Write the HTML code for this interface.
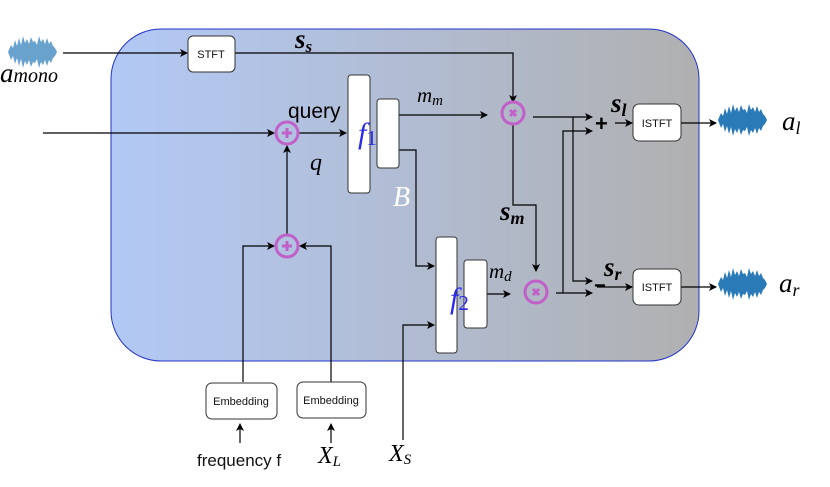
<!DOCTYPE html>
<html><head><meta charset="utf-8"><style>
html,body{margin:0;padding:0;background:#fff;width:830px;height:487px;overflow:hidden}
svg text{font-family:"Liberation Serif",serif}
.s{font-family:"Liberation Sans",sans-serif}
</style></head><body>
<svg width="830" height="487" viewBox="0 0 830 487" xmlns="http://www.w3.org/2000/svg">
<defs>
<linearGradient id="g" x1="0" x2="1" y1="0" y2="0"><stop offset="0" stop-color="#b2c9f6"/><stop offset="1" stop-color="#b0b0b0"/></linearGradient>
<marker id="a" markerWidth="8" markerHeight="8" refX="7" refY="4" orient="auto" markerUnits="userSpaceOnUse"><path d="M0,0 L8,4 L0,8 L2,4 z" fill="#000"/></marker>
<g id="wave" fill="#2a7ab8">
<path d="M0,16 L3,9 L5,12 L7,4 L9,10 L11,2 L13,9 L15,0 L17,7 L19,3 L21,8 L23,1 L25,6 L27,5 L29,9 L31,0 L33,6 L35,3 L37,8 L39,2 L41,8 L43,5 L45,10 L47,12 L49,16 L47,20 L45,22 L43,27 L41,24 L39,30 L37,24 L35,29 L33,26 L31,32 L29,23 L27,27 L25,26 L23,31 L21,24 L19,29 L17,25 L15,32 L13,23 L11,30 L9,22 L7,28 L5,20 L3,24 Z"/>
</g>
</defs>
<rect x="111" y="29" width="588" height="332" rx="50" fill="url(#g)" stroke="#2233cc" stroke-width="1"/>
<g stroke="#000" stroke-width="1.2" fill="none">
<path d="M63,53 H187" marker-end="url(#a)"/>
<path d="M235,53 H513 V102" marker-end="url(#a)"/>
<path d="M43,133 H274" marker-end="url(#a)"/>
<path d="M299,133 H346" marker-end="url(#a)"/>
<path d="M287,234 V146" marker-end="url(#a)"/>
<path d="M243,382 V246 H274" marker-end="url(#a)"/>
<path d="M331,382 V246 H300" marker-end="url(#a)"/>
<path d="M399,115 H487" marker-end="url(#a)"/>
<path d="M399,150 H416 V266 H434" marker-end="url(#a)"/>
<path d="M513,125 V205 H536 V271" marker-end="url(#a)"/>
<path d="M487,294 H510" marker-end="url(#a)"/>
<path d="M533,117 H592" marker-end="url(#a)"/>
<path d="M573,117 V281 H592" marker-end="url(#a)"/>
<path d="M556,293 H592" marker-end="url(#a)"/>
<path d="M563,293 V131 H592" marker-end="url(#a)"/>
<path d="M615,123 H632" marker-end="url(#a)"/>
<path d="M597,287 H632" marker-end="url(#a)"/>
<path d="M681,123 H716" marker-end="url(#a)"/>
<path d="M681,287 H716" marker-end="url(#a)"/>
<path d="M240,443 V424" marker-end="url(#a)"/>
<path d="M331,443 V424" marker-end="url(#a)"/>
<path d="M403,440 V325 H434" marker-end="url(#a)"/>
</g>
<g fill="#fff" stroke="#333" stroke-width="1">
<rect x="188" y="36" width="47" height="36" rx="5"/>
<rect x="348" y="75" width="22" height="118" rx="3"/>
<rect x="377" y="99" width="22" height="69" rx="3"/>
<rect x="436" y="237" width="21" height="116" rx="3"/>
<rect x="464" y="260" width="23" height="68" rx="3"/>
<rect x="633" y="104" width="48" height="37" rx="6"/>
<rect x="633" y="269" width="48" height="36" rx="6"/>
<rect x="206" y="383" width="71" height="36" rx="6"/>
<rect x="297" y="382" width="69" height="36" rx="6"/>
</g>
<g fill="none" stroke="#c060c8" stroke-width="3">
<circle cx="287" cy="133" r="11"/><circle cx="287" cy="246" r="11"/>
<circle cx="513" cy="113" r="11"/><circle cx="536" cy="292" r="11"/>
</g>
<g stroke="#c060c8" stroke-width="3">
<path d="M282,133 H292 M287,128 V138"/>
<path d="M282,246 H292 M287,241 V251"/>
<path d="M510,110 L516,116 M516,110 L510,116"/>
<path d="M533,289 L539,295 M539,289 L533,295"/>
</g>
<g class="s" font-size="11" text-anchor="middle" fill="#111">
<text x="211" y="58" class="s">STFT</text>
<text x="657" y="127" class="s">ISTFT</text>
<text x="657" y="291" class="s">ISTFT</text>
<text x="241" y="405" class="s">Embedding</text>
<text x="331" y="404" class="s">Embedding</text>
</g>
<use href="#wave" x="8" y="36" opacity="0.7"/>
<use href="#wave" x="718" y="104"/>
<use href="#wave" x="718" y="268"/>
<g font-style="italic" font-size="27" fill="#000">
<text x="0" y="82">a<tspan font-size="20" dy="0">mono</tspan></text>
<text x="782" y="130">a<tspan font-size="18" dy="4">l</tspan></text>
<text x="779" y="292">a<tspan font-size="18" dy="4">r</tspan></text>
<text x="295" y="48" font-weight="bold">s<tspan font-size="17" dy="4">s</tspan></text>
<text x="417" y="102" font-size="21">m<tspan font-size="15" dy="3">m</tspan></text>
<text x="310" y="170" font-size="24">q</text>
<text x="500" y="220" font-weight="bold">s<tspan font-size="18" dy="4">m</tspan></text>
<text x="489" y="278" font-size="21">m<tspan font-size="15" dy="3">d</tspan></text>
<text x="611" y="112" font-weight="bold">s<tspan font-size="18" dy="4">l</tspan></text>
<text x="604" y="276" font-weight="bold">s<tspan font-size="18" dy="4">r</tspan></text>
<text x="318" y="463" font-size="24">X<tspan font-size="15" dy="3">L</tspan></text>
<text x="389" y="461" font-size="24">X<tspan font-size="15" dy="3">S</tspan></text>
<text x="393" y="206" font-size="28" fill="#fff">B</text>
</g>
<text x="288" y="118" class="s" font-size="21" fill="#000">query</text>
<text x="595" y="131" class="s" font-size="22" font-weight="bold" fill="#000">+</text>
<text x="594" y="292" class="s" font-size="20" font-weight="bold" fill="#000">−</text>
<text x="197" y="466" class="s" font-size="17" fill="#111">frequency f</text>
<text x="358" y="143" font-size="30" font-style="italic" fill="#2a2aee">f<tspan font-style="normal" font-size="21" dy="2">1</tspan></text>
<text x="450" y="308" font-size="30" font-style="italic" fill="#2a2aee">f<tspan font-style="normal" font-size="21" dy="2">2</tspan></text>
</svg>
</body></html>
